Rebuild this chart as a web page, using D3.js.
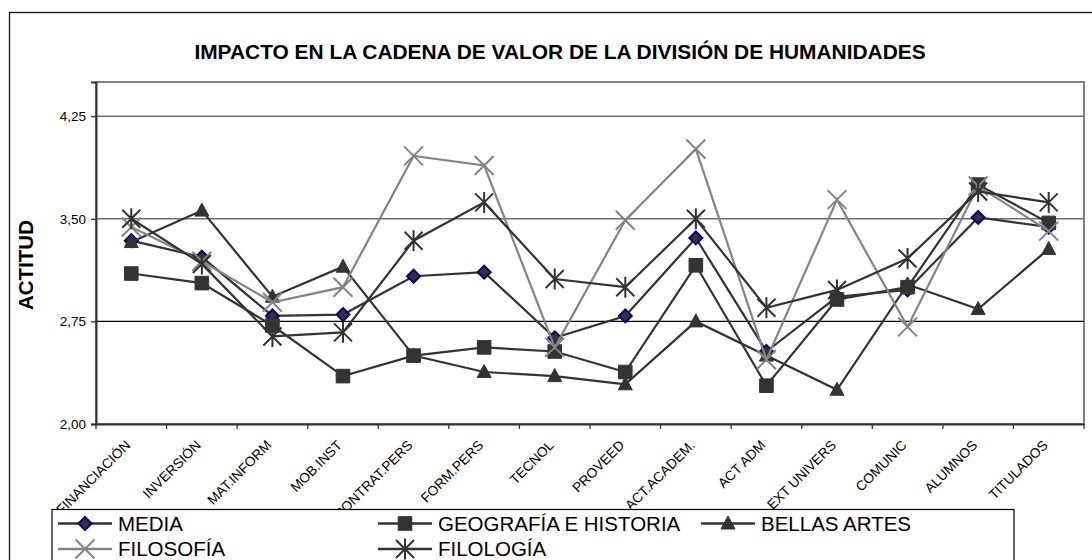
<!DOCTYPE html>
<html><head><meta charset="utf-8">
<script src="https://cdn.jsdelivr.net/npm/d3@7"></script>
<style>
html,body{margin:0;padding:0;background:#fff;overflow:hidden}
svg{display:block}
text{font-family:'Liberation Sans',Arial,sans-serif;fill:#000}
</style></head>
<body>
<svg id="chart" width="1092" height="560"></svg>
<script>
const categories = ["FINANCIACIÓN","INVERSIÓN","MAT.INFORM","MOB.INST","CONTRAT.PERS","FORM.PERS","TECNOL","PROVEED","ACT.ACADEM.","ACT ADM","EXT UNIVERS","COMUNIC","ALUMNOS","TITULADOS"];
const media     = [3.34, 3.22, 2.79, 2.80, 3.08, 3.11, 2.63, 2.79, 3.36, 2.53, 2.93, 2.98, 3.51, 3.44];
const geografia = [3.10, 3.03, 2.72, 2.35, 2.50, 2.56, 2.53, 2.38, 3.16, 2.28, 2.91, 3.00, 3.75, 3.47];
const bellas    = [3.33, 3.56, 2.93, 3.15, 2.50, 2.38, 2.35, 2.29, 2.75, 2.50, 2.25, 3.02, 2.84, 3.28];
const filosofia = [3.44, 3.19, 2.89, 3.00, 3.96, 3.89, 2.56, 3.49, 4.01, 2.47, 3.64, 2.71, 3.74, 3.41];
const filologia = [3.50, 3.17, 2.64, 2.67, 3.34, 3.62, 3.06, 3.00, 3.50, 2.85, 2.98, 3.21, 3.70, 3.62];
const seriesNames = ["MEDIA","GEOGRAFÍA E HISTORIA","BELLAS ARTES","FILOSOFÍA","FILOLOGÍA"];
const yTicks = [2.00, 2.75, 3.50, 4.25];
const title = "IMPACTO EN LA CADENA DE VALOR DE LA DIVISIÓN DE HUMANIDADES";
const yTitle = "ACTITUD";

const seriesData = [media, geografia, bellas, filosofia, filologia];
const styles = [
  {line:"#333333", marker:"diamond"},
  {line:"#333333", marker:"square"},
  {line:"#333333", marker:"triangle"},
  {line:"#848484", marker:"x"},
  {line:"#333333", marker:"star"}
];

const svg = d3.select("#chart");
const L = 96, R = 1084, T = 82, B = 424;
const x = d3.scaleBand().domain(categories).range([L, R]).padding(0);
const y = d3.scaleLinear().domain([2, 4.5]).range([B, T]);
const cx = c => x(c) + x.bandwidth()/2;

// outer border
svg.append("rect").attr("x",9.5).attr("y",12.5).attr("width",1200).attr("height",700)
  .attr("fill","none").attr("stroke","#111").attr("stroke-width",1.3);

// title
svg.append("text").attr("x",560).attr("y",59).attr("text-anchor","middle")
  .style("font-weight","bold").style("font-size","20.9px").text(title);

// plot area border (top/right gray)
svg.append("rect").attr("x",L).attr("y",T).attr("width",R-L).attr("height",B-T)
  .attr("fill","none").attr("stroke","#808080").attr("stroke-width",2);

// gridlines
svg.append("g").selectAll("line").data(yTicks.filter(d=>d>2)).join("line")
  .attr("x1",L).attr("x2",R).attr("y1",d=>y(d)).attr("y2",d=>y(d))
  .attr("stroke",d=> d===2.75 ? "#000" : "#6e6e6e").attr("stroke-width",d=> d===2.75 ? 1.3 : 1.5);

// y axis
const yAxis = svg.append("g").attr("transform",`translate(${L},0)`)
  .call(d3.axisLeft(y).tickValues(yTicks).tickSize(5).tickPadding(5)
    .tickFormat(d => d.toFixed(2).replace(".",",")));
yAxis.select(".domain").attr("stroke","#333").attr("stroke-width",2);
yAxis.selectAll(".tick line").attr("stroke","#333").attr("stroke-width",1.3);
yAxis.selectAll(".tick text").style("font-size","13.5px").style("font-family","'Liberation Sans',Arial,sans-serif").attr("fill","#000");

// x axis
const xAxis = svg.append("g").attr("transform",`translate(0,${B})`)
  .call(d3.axisBottom(x).tickSize(0).tickFormat(d=>d));
xAxis.select(".domain").attr("stroke","#333").attr("stroke-width",2);
xAxis.selectAll(".tick text")
  .style("font-size","13.7px").style("font-family","'Liberation Sans',Arial,sans-serif").attr("fill","#000")
  .attr("text-anchor","end").attr("x",0).attr("y",0).attr("dy",0)
  .attr("transform","translate(0,22) rotate(-45)");
// tick marks between categories
svg.append("g").selectAll("line").data(categories.concat(["__end"])).join("line")
  .attr("x1",d=> d==="__end" ? R : x(d)).attr("x2",d=> d==="__end" ? R : x(d))
  .attr("y1",B).attr("y2",B+5).attr("stroke","#333").attr("stroke-width",1.3);

// marker paths
function markerPath(type){
  switch(type){
    case "diamond": return `M0,${-6.5}L6.5,0L0,6.5L${-6.5},0Z`;
    case "square": return `M-6.8,-6.8H6.8V6.8H-6.8Z`;
    case "triangle": return `M0,-7.5L7,5.5L-7,5.5Z`;
    case "x": return `M-9.5,-9.5L9.5,9.5M-9.5,9.5L9.5,-9.5`;
    case "star": return `M-9,-9L9,9M-9,9L9,-9M0,-10.5V10.5`;
  }
}
function drawMarker(g, type, color){
  const p = g.append("path").attr("d", markerPath(type));
  if(type==="diamond") p.attr("fill","#333").attr("stroke","#000080").attr("stroke-width",2);
  else if(type==="square"||type==="triangle") p.attr("fill","#333").attr("stroke","#333").attr("stroke-width",1);
  else p.attr("fill","none").attr("stroke",color).attr("stroke-width",2);
}

const line = d3.line().x((d,i)=>cx(categories[i])).y(d=>y(d));
seriesData.forEach((vals, si) => {
  const st = styles[si];
  const g = svg.append("g");
  g.append("path").datum(vals).attr("d", line).attr("fill","none")
    .attr("stroke", st.line).attr("stroke-width",2.2).attr("stroke-linejoin","miter");
  vals.forEach((v,i) => {
    const mg = g.append("g").attr("transform",`translate(${cx(categories[i])},${y(v)})`);
    drawMarker(mg, st.marker, st.line);
  });
});

// y title
svg.append("text").attr("transform","translate(33,265) rotate(-90)").attr("text-anchor","middle")
  .style("font-weight","bold").style("font-size","20.5px").text(yTitle);

// legend
svg.append("rect").attr("x",52).attr("y",509.5).attr("width",962).attr("height",100)
  .attr("fill","#fff").attr("stroke","#000").attr("stroke-width",1.2);
const legendPos = [[58,523.5],[378,523.5],[701,523.5],[58,549],[378,549]];
seriesNames.forEach((name, si) => {
  const [lx, ly] = legendPos[si];
  const st = styles[si];
  const g = svg.append("g");
  g.append("line").attr("x1",lx).attr("x2",lx+54).attr("y1",ly).attr("y2",ly)
    .attr("stroke",st.line).attr("stroke-width",2.5);
  const mg = g.append("g").attr("transform",`translate(${lx+27},${ly})`);
  drawMarker(mg, st.marker, st.line);
  g.append("text").attr("x",lx+60).attr("y",ly+7.3).style("font-size","20.5px").text(name);
});
</script>
</body></html>
